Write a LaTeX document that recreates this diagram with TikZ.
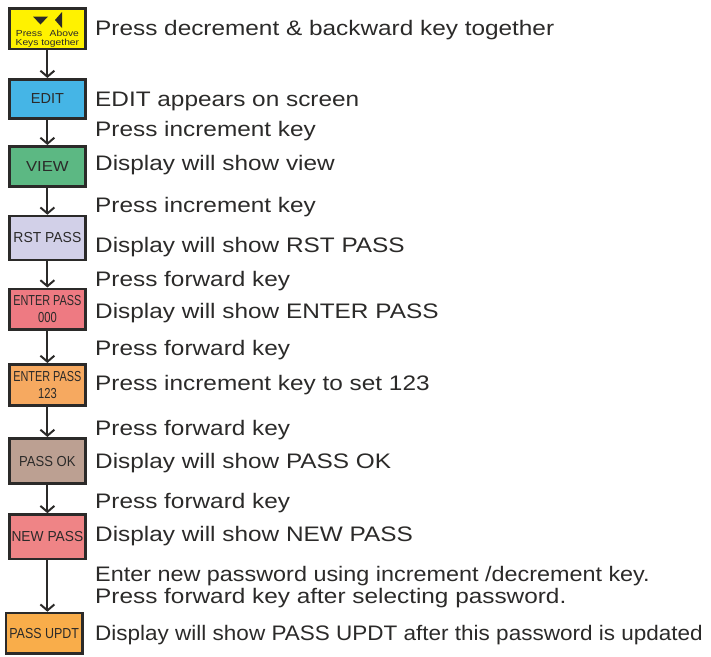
\documentclass[tikz,border=0pt]{standalone}
\usepackage{graphicx}
\usepackage{fontspec}
\setmainfont{Liberation Sans}[FakeStretch=1.16]
\newfontfamily\boxfont{Liberation Sans}
\newfontfamily\keyfont{Liberation Sans}[FakeStretch=1.17]
\usetikzlibrary{arrows.meta}
\definecolor{ink}{HTML}{2B2A29}
\definecolor{cyel}{HTML}{FFF200}
\definecolor{cblue}{HTML}{45B5E6}
\definecolor{cgreen}{HTML}{5CB883}
\definecolor{clav}{HTML}{D2D0E8}
\definecolor{cred}{HTML}{EE7A82}
\definecolor{corange}{HTML}{F6A960}
\definecolor{cbrown}{HTML}{BCA092}
\definecolor{cpink}{HTML}{EF8486}
\definecolor{cgold}{HTML}{F9AD4A}
\newcommand{\sq}[2]{\scalebox{#1}[1]{#2}}
\begin{document}
\begin{tikzpicture}[x=1pt, y=-1pt,
  box/.style={draw=ink, line width=2.6pt, minimum width=76.4pt, inner sep=0pt, text=ink, align=center,
    font=\boxfont\fontsize{14.5}{16.6}\selectfont},
  note/.style={anchor=base west, inner sep=0pt, text=ink, font=\fontsize{21}{23}\selectfont},
  flow/.style={draw=ink, line width=2pt, -{Straight Barb[length=6pt,width=14pt,line width=2pt]}}]
  \useasboundingbox (0,0) rectangle (711,656);
  \node[box, fill=cyel, minimum height=40.5pt] (keys) at (47.4,28.7) {};
  \fill[ink] (33,16.5) -- (48,16.5) -- (40.5,24.5) -- cycle;
  \fill[ink] (55,20) -- (62,12) -- (62,28) -- cycle;
  \node[inner sep=0pt, text=ink, align=center, font=\keyfont\fontsize{8.8}{9.2}\selectfont, anchor=base] (keytxt) at (47.4,45.7) {Press\hspace{7.5pt}Above\\Keys together};
  \node[box, fill=cblue, minimum height=39.4pt] (edit) at (47.4,99) {EDIT};
  \node[box, fill=cgreen, minimum height=40.4pt] (view) at (47.4,166.5) {\sq{1.15}{VIEW}};
  \node[box, fill=clav, minimum height=43.9pt] (rst) at (47.4,238) {\sq{0.96}{RST PASS}};
  \node[box, fill=cred, minimum height=40.4pt] (ent0) at (47.4,309) {\sq{0.75}{ENTER PASS}\\\sq{0.77}{000}};
  \node[box, fill=corange, minimum height=41.4pt] (ent1) at (47.4,385) {\sq{0.75}{ENTER PASS}\\\sq{0.77}{123}};
  \node[box, fill=cbrown, minimum height=45.4pt] (ok) at (47.4,461) {\sq{0.9}{PASS OK}};
  \node[box, fill=cpink, minimum height=44.4pt] (newp) at (47.4,536.7) {\sq{0.95}{NEW PASS}};
  \node[box, fill=cgold, minimum height=40.7pt] (updt) at (44.2,633.4) {\sq{0.86}{PASS UPDT}};

  \draw[flow] (keys) -- (edit);
  \draw[flow] (edit) -- (view);
  \draw[flow] (view) -- (rst);
  \draw[flow] (rst) -- (ent0);
  \draw[flow] (ent0) -- (ent1);
  \draw[flow] (ent1) -- (ok);
  \draw[flow] (ok) -- (newp);
  \draw[flow] (newp.south) -- (newp.south |- updt.north);

  \node[note] (n1) at (95,35) {Press decrement \& backward key together};
  \node[note] (n2) at (95,106.7) {EDIT appears on screen};
  \node[note] (n3) at (95,136.7) {Press increment key};
  \node[note] (n4) at (95,170) {Display will show view};
  \node[note] (n5) at (95,212) {Press increment key};
  \node[note] (n6) at (95,252.7) {Display will show RST PASS};
  \node[note] (n7) at (95,286.7) {Press forward key};
  \node[note] (n8) at (95,318) {Display will show ENTER PASS};
  \node[note] (n9) at (95,355) {Press forward key};
  \node[note] (n10) at (95,390) {Press increment key to set 123};
  \node[note] (n11) at (95,435) {Press forward key};
  \node[note] (n12) at (95,468) {Display will show PASS OK};
  \node[note] (n13) at (95,508) {Press forward key};
  \node[note] (n14) at (95,541.7) {Display will show NEW PASS};
  \node[note] (n15) at (95,581.7) {\sq{0.96}{Enter new password using increment /decrement key.}};
  \node[note] (n16) at (95,603.3) {Press forward key after selecting password.};
  \node[note] (n17) at (95,640) {\sq{0.924}{Display will show PASS UPDT after this password is updated}};
\end{tikzpicture}
\end{document}
